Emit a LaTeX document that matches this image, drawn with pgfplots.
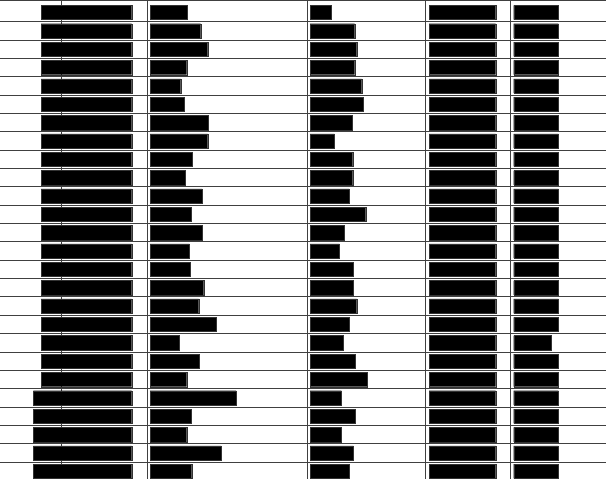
\documentclass[border=0pt]{standalone}
\usepackage{pgfplots}
\usepackage{pgfplotstable}
\pgfplotsset{compat=1.18}

% bar lengths per row (pixels of the reference), five panels
\pgfplotstableread{
row c1 c2 c3 c4 c5
0 -90.7 37.3 21.0 66.7 44.6
1 -90.7 50.7 44.7 66.7 44.6
2 -90.7 57.7 46.7 66.7 44.6
3 -90.7 36.7 44.7 66.7 44.6
4 -90.7 30.7 51.7 66.7 44.6
5 -90.7 34.3 53.0 66.7 44.6
6 -90.7 58.3 42.3 66.7 44.6
7 -90.7 57.7 24.3 66.7 44.6
8 -90.7 42.3 42.7 66.7 44.6
9 -90.7 35.3 42.7 66.7 44.6
10 -90.7 52.0 39.0 66.7 44.6
11 -90.7 41.0 55.7 66.7 44.6
12 -90.7 52.0 34.3 66.7 44.6
13 -90.7 39.3 29.3 66.7 44.6
14 -90.7 40.0 43.3 66.7 44.6
15 -90.7 53.7 43.3 66.7 44.6
16 -90.7 48.7 46.7 66.7 44.6
17 -90.7 66.0 39.0 66.7 44.6
18 -90.7 29.3 33.3 66.7 37.6
19 -90.7 49.3 45.3 66.7 44.6
20 -90.7 36.7 57.0 66.7 44.6
21 -98.4 86.0 31.3 66.7 44.6
22 -98.4 41.0 45.3 66.7 44.6
23 -98.4 36.7 31.3 66.7 44.6
24 -98.4 71.0 43.3 66.7 44.6
25 -98.4 41.7 39.0 66.7 44.6
}\bars

\pgfplotsset{
  panel/.style={
    scale only axis, height=479bp, anchor=south west,
    y dir=reverse, ymin=-0.683, ymax=25.42,
    axis line style={draw=none},
    major tick length=0pt,
    xticklabels={}, yticklabels={},
    ytick={0.5,1.5,...,24.5},
    extra y ticks={-0.66}, extra y tick labels={},
    extra y tick style={grid=major},
    ymajorgrids, xmajorgrids,
    grid style={black!75, line width=1bp},
    xbar, bar width=0.78,
  },
  panelbar/.style={fill=black, draw=black!80, line width=0.4bp},
}

\begin{document}
\begin{tikzpicture}
\path[use as bounding box] (0,0) rectangle (606bp,479bp);

\begin{axis}[panel, at={(0bp,0bp)}, width=147.3bp,
  xmin=-131.7, xmax=15.6, xtick={-70.7}]
\addplot[panelbar] table[x=c1, y=row] {\bars};
\end{axis}

\begin{axis}[panel, at={(147.3bp,0bp)}, width=160bp,
  xmin=-2.7, xmax=157.3, xtick={-2.69}]
\addplot[panelbar] table[x=c2, y=row] {\bars};
\end{axis}

\begin{axis}[panel, at={(307.3bp,0bp)}, width=118.4bp,
  xmin=-2.7, xmax=115.7, xtick={-2.69}]
\addplot[panelbar] table[x=c3, y=row] {\bars};
\end{axis}

\begin{axis}[panel, at={(425.7bp,0bp)}, width=84.6bp,
  xmin=-3.3, xmax=81.3, xtick={-3.29}]
\addplot[panelbar] table[x=c4, y=row] {\bars};
\end{axis}

\begin{axis}[panel, at={(510.3bp,0bp)}, width=95.7bp,
  xmin=-3.4, xmax=92.3, xtick={-3.39}]
\addplot[panelbar] table[x=c5, y=row] {\bars};
\end{axis}
\end{tikzpicture}
\end{document}
